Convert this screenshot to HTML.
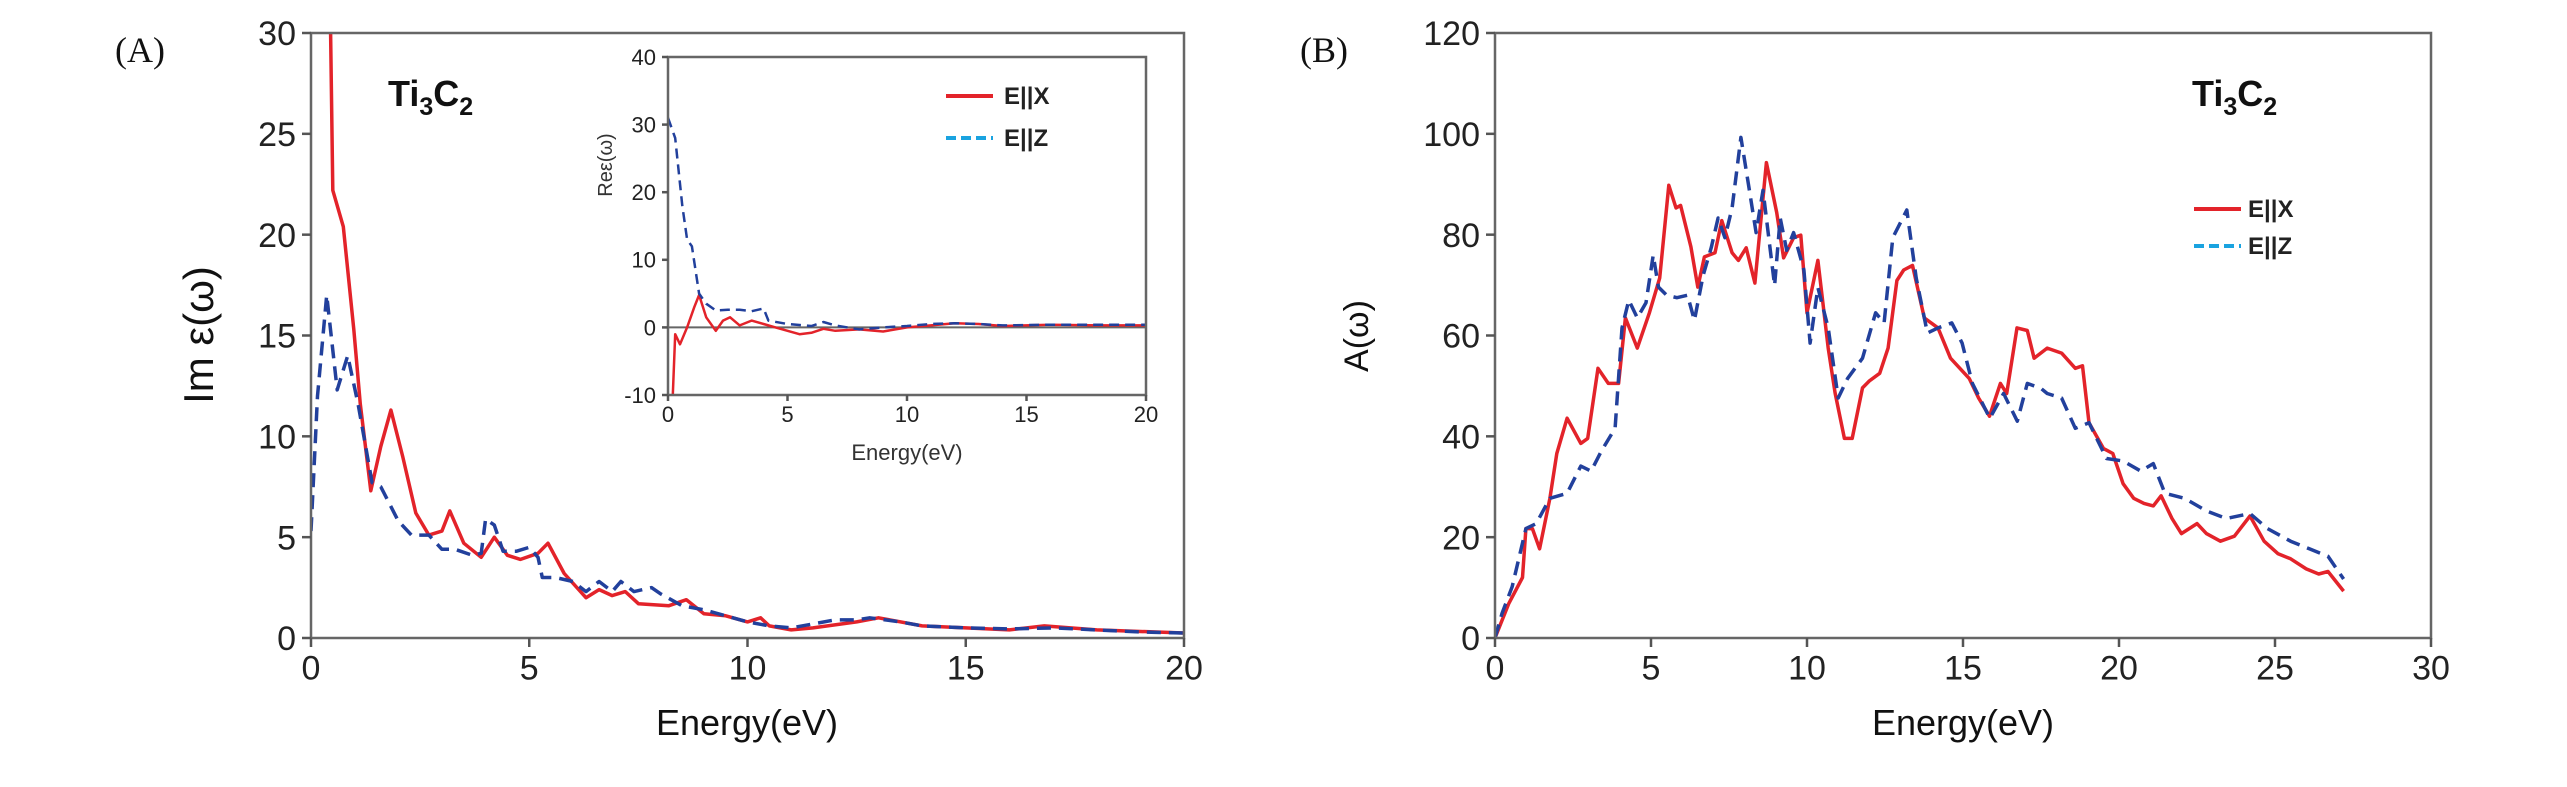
<!DOCTYPE html>
<html><head><meta charset="utf-8"><style>
html,body{margin:0;padding:0;background:#fff;}
svg{display:block;font-family:"Liberation Sans",Arial,sans-serif;}
</style></head><body>
<svg id="c" width="2567" height="787" viewBox="0 0 2567 787" xmlns="http://www.w3.org/2000/svg"></svg>
<script>
// Panel A: Im eps
const imX_E=[0.45,0.5,0.74,0.98,1.13,1.37,1.6,1.83,2.1,2.4,2.7,3.0,3.18,3.5,3.9,4.2,4.5,4.8,5.2,5.43,5.8,6.3,6.6,6.9,7.2,7.5,8.2,8.6,9.0,9.5,10.0,10.3,10.5,11.0,11.5,12.5,13.0,14,15,16,16.8,18,20];
const imX_V=[30,22.2,20.4,15.3,11.6,7.3,9.5,11.3,9.0,6.2,5.1,5.3,6.3,4.7,4.0,5.0,4.1,3.9,4.2,4.7,3.2,2.0,2.4,2.1,2.3,1.7,1.6,1.9,1.2,1.1,0.8,1.0,0.6,0.4,0.5,0.8,1.0,0.6,0.5,0.4,0.6,0.4,0.25];
const imZ_E=[0,0.15,0.36,0.6,0.84,1.08,1.4,1.6,2.0,2.3,2.7,3.0,3.3,3.7,3.9,4.0,4.2,4.4,4.7,5.0,5.2,5.3,5.6,6.0,6.3,6.6,6.9,7.1,7.4,7.8,8.0,8.5,9.0,9.5,10,10.5,11,11.5,12,12.5,12.8,13.5,14,15,16,17,18,19,20];
const imZ_V=[5.3,12,17,12.3,14,11.6,7.7,7.5,5.8,5.1,5.1,4.4,4.4,4.1,4.2,5.9,5.6,4.3,4.3,4.5,4.0,3.0,3.0,2.8,2.3,2.8,2.3,2.8,2.3,2.5,2.2,1.6,1.4,1.1,0.8,0.6,0.5,0.7,0.9,0.9,1.0,0.8,0.6,0.5,0.45,0.5,0.4,0.3,0.25];
// Inset: Re eps
const reX_E=[0.2,0.3,0.5,0.8,1.1,1.3,1.6,2.0,2.3,2.6,3.0,3.5,4.0,4.5,5.0,5.5,6.0,6.5,7,8,9,10,11,12,13,14,16,18,20];
const reX_V=[-10,-1,-2.5,0,3,4.8,1.5,-0.5,1,1.5,0.3,1,0.5,0,-0.5,-1,-0.8,-0.2,-0.5,-0.3,-0.6,0,0.3,0.6,0.5,0.2,0.4,0.3,0.3];
const reZ_E=[0,0.3,0.6,0.8,1.0,1.3,1.6,2,2.5,3,3.5,4,4.2,5,6,6.5,7,8,9,10,11,12,13,14,16,18,20];
const reZ_V=[31,28,18,13,12,5,3.5,2.5,2.6,2.6,2.4,2.8,1,0.5,0.2,0.8,0.3,-0.3,0,0.2,0.5,0.6,0.5,0.3,0.4,0.4,0.4];
// Panel B: absorption
const abX_E=[0,0.44,0.88,0.99,1.2,1.43,1.76,1.98,2.31,2.75,2.97,3.3,3.63,3.96,4.18,4.56,4.95,5.28,5.57,5.8,5.95,6.28,6.5,6.71,7.05,7.27,7.6,7.8,8.05,8.33,8.7,9.03,9.25,9.57,9.8,10.0,10.35,10.68,10.9,11.2,11.45,11.78,12.0,12.33,12.6,12.88,13.1,13.38,13.76,14.2,14.6,15.2,15.5,15.85,16.2,16.4,16.73,17.06,17.28,17.7,18.16,18.6,18.83,19.04,19.5,19.8,20.13,20.47,20.8,21.1,21.35,21.7,22.0,22.5,22.8,23.25,23.7,24.2,24.65,25.1,25.5,26.0,26.4,26.7,27.2];
const abX_V=[0,6.8,12,21.7,21.7,17.7,27.7,36.6,43.6,38.6,39.6,53.5,50.5,50.5,63.5,57.5,64.5,71.4,89.8,85.3,85.8,77.6,69.6,75.6,76.4,82.8,76.4,74.9,77.4,70.4,94.3,84.4,75.4,79.4,79.9,64.5,74.9,57.5,48.6,39.6,39.6,49.6,51,52.5,57.5,70.9,73,73.9,63.5,61.5,55.5,51.5,47.6,44,50.5,48.5,61.5,61,55.5,57.5,56.5,53.5,54,42.7,37.6,36.6,30.6,27.7,26.7,26.2,28.2,23.7,20.7,22.7,20.7,19.2,20.2,24.2,19.2,16.7,15.7,13.7,12.7,13.2,9.3];
const abZ_E=[0,0.22,0.55,0.99,1.32,1.76,2.31,2.75,3.08,3.41,3.85,4.07,4.29,4.56,4.84,5.07,5.24,5.5,5.83,6.17,6.39,6.67,6.93,7.15,7.37,7.6,7.88,8.14,8.37,8.59,8.96,9.14,9.35,9.57,9.9,10.1,10.35,10.68,11.0,11.3,11.78,12.2,12.47,12.75,13.2,13.5,13.86,14.2,14.64,14.97,15.3,15.86,16.3,16.74,17.06,17.5,17.7,18.16,18.6,19.04,19.6,20.13,20.7,21.1,21.47,22.1,22.8,23.44,24.2,24.76,25.5,26.1,26.7,27.2];
const abZ_V=[0,4.8,10.2,21.7,22.7,27.7,28.7,34.1,33.1,37.1,41.6,61.5,67,63.5,66.5,75.9,69.6,68,67.5,68,63,71.9,77.4,83.3,79.4,85.3,99.3,89.3,80.4,88.8,69.9,83.3,76.9,80.4,73,58.5,69.5,61.5,47.6,51.5,55.5,64.5,62.5,79.4,84.9,71.4,60.5,61.5,62.5,58.5,50.5,43.6,48.5,43,50.5,49.5,48.5,47.6,41.6,42.7,35.6,35.1,33.1,34.6,28.7,27.7,25.2,23.7,24.7,21.7,19.2,17.7,16.2,11.7];
const aXTicks=[0,5,10,15,20], aYTicks=[0,5,10,15,20,25,30];
const iXTicks=[0,5,10,15,20], iYTicks=[-10,0,10,20,30,40];
const bXTicks=[0,5,10,15,20,25,30], bYTicks=[0,20,40,60,80,100,120];

const NS="http://www.w3.org/2000/svg", svg=document.getElementById('c');
function el(tag,attrs,parent,text){const e=document.createElementNS(NS,tag);for(const k in attrs)e.setAttribute(k,attrs[k]);if(text!==undefined)e.textContent=text;(parent||svg).appendChild(e);return e;}
function scale(d0,d1,r0,r1){return v=>r0+(v-d0)/(d1-d0)*(r1-r0);}
function axes(g,L,R,T,B,xs,ys,xt,yt,fs,tick,name){
  const f=el('rect',{x:L,y:T,width:R-L,height:B-T,fill:'none',stroke:'#666','stroke-width':2.5},g);
  
  xt.forEach(v=>{const x=xs(v);el('line',{x1:x,x2:x,y1:B,y2:B+tick,stroke:'#555','stroke-width':2.5},g);
    const t=el('text',{x:x,y:B+tick+fs*0.95,'font-size':fs,'text-anchor':'middle',fill:'#222'},g,String(v));
    });
  yt.forEach(v=>{const y=ys(v);el('line',{x1:L-tick,x2:L,y1:y,y2:y,stroke:'#555','stroke-width':2.5},g);
    const t=el('text',{x:L-tick-6,y:y+fs*0.36,'font-size':fs,'text-anchor':'end',fill:'#222'},g,String(v));
    });
}
function series(g,E,V,xs,ys,color,w,dash,name,clip){
  const d=E.map((e,i)=>(i?'L':'M')+xs(e).toFixed(1)+','+ys(V[i]).toFixed(1)).join(' ');
  const p=el('path',{d:d,fill:'none',stroke:color,'stroke-width':w,'stroke-linejoin':'round'},g);
  if(dash)p.setAttribute('stroke-dasharray',dash);
  if(clip)p.setAttribute('clip-path','url(#'+clip+')');
  
}
const RED='#e3232a', BLUE='#22409c';
const defs=el('defs',{});
[['clipA',311,33,873,605],['clipI',668,57,478,338],['clipB',1495,33,936,605]].forEach(c=>{const cp=el('clipPath',{id:c[0]},defs);el('rect',{x:c[1],y:c[2],width:c[3],height:c[4]},cp);});

// Panel A
const gA=el('g',{});
const axA=scale(0,20,311,1184), ayA=scale(0,30,638,33);
series(gA,imX_E,imX_V,axA,ayA,RED,3.5,null,'im-eps-x-line','clipA');
series(gA,imZ_E,imZ_V,axA,ayA,BLUE,3.5,'14,8','im-eps-z-line','clipA');
axes(gA,311,1184,33,638,axA,ayA,aXTicks,aYTicks,34,9,'panel-a');
let t;
t=el('text',{x:140,y:62,'font-size':36,'font-family':'Liberation Serif,serif','text-anchor':'middle',fill:'#111'},gA,'(A)');
t=el('text',{x:747,y:735,'font-size':36,'text-anchor':'middle',fill:'#111'},gA,'Energy(eV)');
t=el('text',{x:0,y:0,'font-size':42,'text-anchor':'middle',fill:'#111',transform:'translate(213,335) rotate(-90)'},gA,'Im ε(ω)');
t=el('text',{x:388,y:106,'font-size':36,'font-weight':'bold',fill:'#111'},gA);t.innerHTML='Ti<tspan font-size="25" dy="9">3</tspan><tspan dy="-9">C</tspan><tspan font-size="25" dy="9">2</tspan>';

// Inset
const gI=el('g',{});
el('rect',{x:668,y:57,width:478,height:338,fill:'#fff'},gI);
const axI=scale(0,20,668,1146), ayI=scale(-10,40,395,57);
el('line',{x1:668,x2:1146,y1:ayI(0),y2:ayI(0),stroke:'#666','stroke-width':2},gI);
series(gI,reX_E,reX_V,axI,ayI,RED,2.5,null,'re-eps-x-line','clipI');
series(gI,reZ_E,reZ_V,axI,ayI,BLUE,2.5,'10,6','re-eps-z-line','clipI');
axes(gI,668,1146,57,395,axI,ayI,iXTicks,iYTicks,22,6,'inset');
t=el('text',{x:907,y:460,'font-size':22,'text-anchor':'middle',fill:'#333'},gI,'Energy(eV)');
t=el('text',{x:0,y:0,'font-size':20,'text-anchor':'middle',fill:'#333',transform:'translate(612,165) rotate(-90)'},gI,'Reε(ω)');
el('line',{x1:946,x2:993,y1:96,y2:96,stroke:RED,'stroke-width':4},gI);
el('line',{x1:946,x2:993,y1:138,y2:138,stroke:'#1aa3e0','stroke-width':4,'stroke-dasharray':'10,5'},gI);
t=el('text',{x:1004,y:104,'font-size':24,'font-weight':'bold',fill:'#222'},gI,'E||X');
t=el('text',{x:1004,y:146,'font-size':24,'font-weight':'bold',fill:'#222'},gI,'E||Z');

// Panel B
const gB=el('g',{});
const axB=scale(0,30,1495,2431), ayB=scale(0,120,638,33);
series(gB,abX_E,abX_V,axB,ayB,RED,3.5,null,'absorption-x-line','clipB');
series(gB,abZ_E,abZ_V,axB,ayB,BLUE,3.5,'14,8','absorption-z-line','clipB');
axes(gB,1495,2431,33,638,axB,ayB,bXTicks,bYTicks,34,9,'panel-b');
t=el('text',{x:1324,y:62,'font-size':36,'font-family':'Liberation Serif,serif','text-anchor':'middle',fill:'#111'},gB,'(B)');
t=el('text',{x:1963,y:735,'font-size':36,'text-anchor':'middle',fill:'#111'},gB,'Energy(eV)');
t=el('text',{x:0,y:0,'font-size':34,'text-anchor':'middle',fill:'#111',transform:'translate(1368,336) rotate(-90)'},gB,'A(ω)');
t=el('text',{x:2192,y:106,'font-size':36,'font-weight':'bold',fill:'#111'},gB);t.innerHTML='Ti<tspan font-size="25" dy="9">3</tspan><tspan dy="-9">C</tspan><tspan font-size="25" dy="9">2</tspan>';
el('line',{x1:2194,x2:2241,y1:209,y2:209,stroke:RED,'stroke-width':4},gB);
el('line',{x1:2194,x2:2241,y1:246,y2:246,stroke:'#1aa3e0','stroke-width':4,'stroke-dasharray':'10,5'},gB);
t=el('text',{x:2248,y:217,'font-size':24,'font-weight':'bold',fill:'#222'},gB,'E||X');
t=el('text',{x:2248,y:254,'font-size':24,'font-weight':'bold',fill:'#222'},gB,'E||Z');
</script>
</body></html>
